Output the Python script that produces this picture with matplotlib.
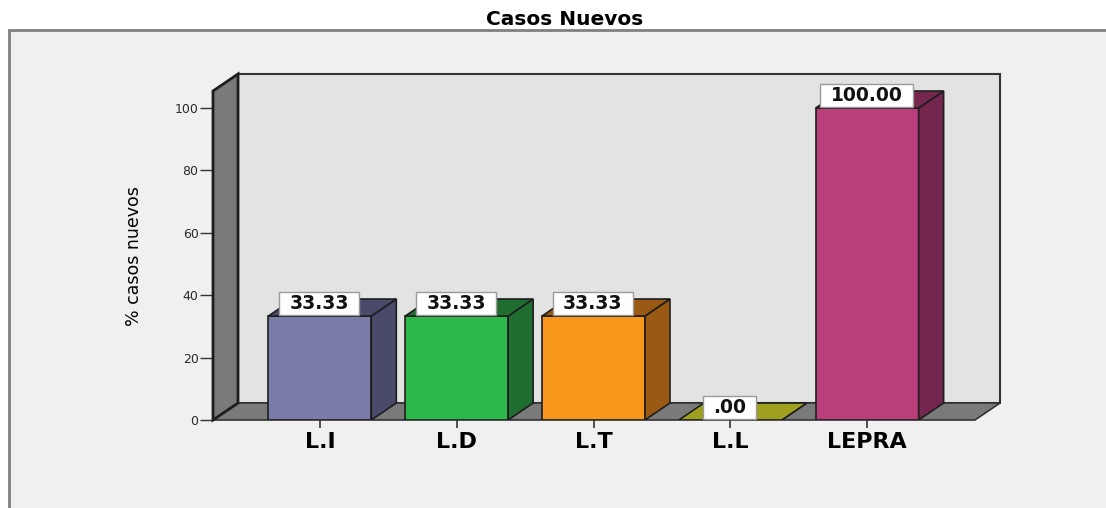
import matplotlib
matplotlib.use("Agg")
import matplotlib.pyplot as plt
from matplotlib.patches import Rectangle, Polygon
from matplotlib.path import Path

# ---- data ----
categories = ["L.I", "L.D", "L.T", "L.L", "LEPRA"]
values = [33.33, 33.33, 33.33, 0.00, 100.00]
labels = ["33.33", "33.33", "33.33", ".00", "100.00"]
front_colors = ["#7B7BA8", "#2EB84A", "#F7981D", "#A0A020", "#B93E7B"]
side_colors = ["#4A4A6A", "#1F6E2F", "#9A5A14", "#7A7A14", "#74264E"]
top_colors = ["#4A4A6A", "#1F6E2F", "#9A5A14", "#A0A020", "#74264E"]
yticks = [0, 20, 40, 60, 80, 100]
title = "Casos Nuevos"
ylabel = "% casos nuevos"

W, H = 1106, 508
fig = plt.figure(figsize=(W / 100, H / 100), dpi=100)
fig.patch.set_facecolor("white")

# outer frame
frame = Rectangle((9 / W, -0.2), 1.2, 1.2 - 30 / H, transform=fig.transFigure,
                  facecolor="#F0F0F0", edgecolor="#808080", lw=2)
frame.set_zorder(-10)
fig.add_artist(frame)

# axes box: front plane + depth
ax_left, ax_right, ax_bottom, ax_top = 213, 1000, 420, 74
ax = fig.add_axes([ax_left / W, (H - ax_bottom) / H, (ax_right - ax_left) / W, (ax_bottom - ax_top) / H])
ax.set_zorder(1)
ax.set_facecolor("none")
for s in ax.spines.values():
    s.set_visible(False)

xlo = -0.781
xhi_front = 4.788
ytop_front = 105.45
depth_px_x, depth_px_y = 25, 17
px_x = (ax_right - ax_left - depth_px_x) / (xhi_front - xlo)
px_y = (ax_bottom - ax_top - depth_px_y) / ytop_front
dx = depth_px_x / px_x
dy = depth_px_y / px_y
ax.set_xlim(xlo, xhi_front + dx)
ax.set_ylim(0, ytop_front + dy)

edge = "#1E1E1E"
# back wall
ax.add_patch(Rectangle((xlo + dx, dy), xhi_front - xlo, ytop_front, facecolor="#E3E3E3",
                       edgecolor="#333333", lw=1.5, zorder=1, clip_on=False))
# floor
ax.add_patch(Polygon([(xlo, 0), (xhi_front, 0), (xhi_front + dx, dy), (xlo + dx, dy)],
                     closed=True, facecolor="#7A7A7A", edgecolor="#333333", lw=1.2, zorder=2, clip_on=False))
# left wall
ax.add_patch(Polygon([(xlo, 0), (xlo + dx, dy), (xlo + dx, ytop_front + dy), (xlo, ytop_front)],
                     closed=True, facecolor="#7A7A7A", edgecolor=edge, lw=2, zorder=3, clip_on=False))

x = list(range(len(categories)))
bw = 0.752
ax.bar(x, values, width=bw, color=front_colors, edgecolor=edge, lw=1.2, zorder=5)
for xi, v, sc, tc in zip(x, values, side_colors, top_colors):
    r = xi + bw / 2
    l = xi - bw / 2
    ax.add_patch(Polygon([(r, 0), (r + dx, dy), (r + dx, v + dy), (r, v)], closed=True,
                         facecolor=sc, edgecolor=edge, lw=1.2, zorder=5))
    ax.add_patch(Polygon([(l, v), (l + dx, v + dy), (r + dx, v + dy), (r, v)], closed=True,
                         facecolor=tc, edgecolor=edge, lw=1.2, zorder=5))


def wide_box(x0, y0, width, height, mutation_size):
    px = 0.55 * mutation_size
    py = 0.10 * mutation_size
    a, b = x0 - px, y0 - py
    c, d = x0 + width + px, y0 + height + py
    return Path([(a, b), (c, b), (c, d), (a, d), (a, b)],
                [Path.MOVETO, Path.LINETO, Path.LINETO, Path.LINETO, Path.CLOSEPOLY])


for xi, v, lab in zip(x, values, labels):
    ax.annotate(lab, xy=(xi, v), xytext=(-0.5, 9.2), textcoords="offset points",
                ha="center", va="center", fontsize=13.5, fontweight="bold", color="#111111",
                bbox=dict(boxstyle=wide_box, facecolor="white", edgecolor="#9A9A9A", lw=1),
                zorder=8)

ax.set_yticks(yticks)
ax.set_yticklabels([str(t) for t in yticks])
ax.set_xticks(x)
ax.set_xticklabels(categories)
ax.tick_params(axis="y", direction="out", length=9.4, width=1, color="#333333", pad=1,
               labelsize=9, labelcolor="#2A2A2A")
ax.tick_params(axis="x", direction="out", length=5.8, width=1.2, color="#333333", pad=3,
               labelsize=16)
for t in ax.get_xticklabels():
    t.set_fontweight("bold")

fig.text(565 / W, 1 - 19.5 / H, title, ha="center", va="center", fontsize=14.5, fontweight="bold")
fig.text(134 / W, 1 - 256 / H, ylabel, ha="center", va="center", rotation=90, fontsize=12.5)

fig.savefig("out.png", dpi=100)
